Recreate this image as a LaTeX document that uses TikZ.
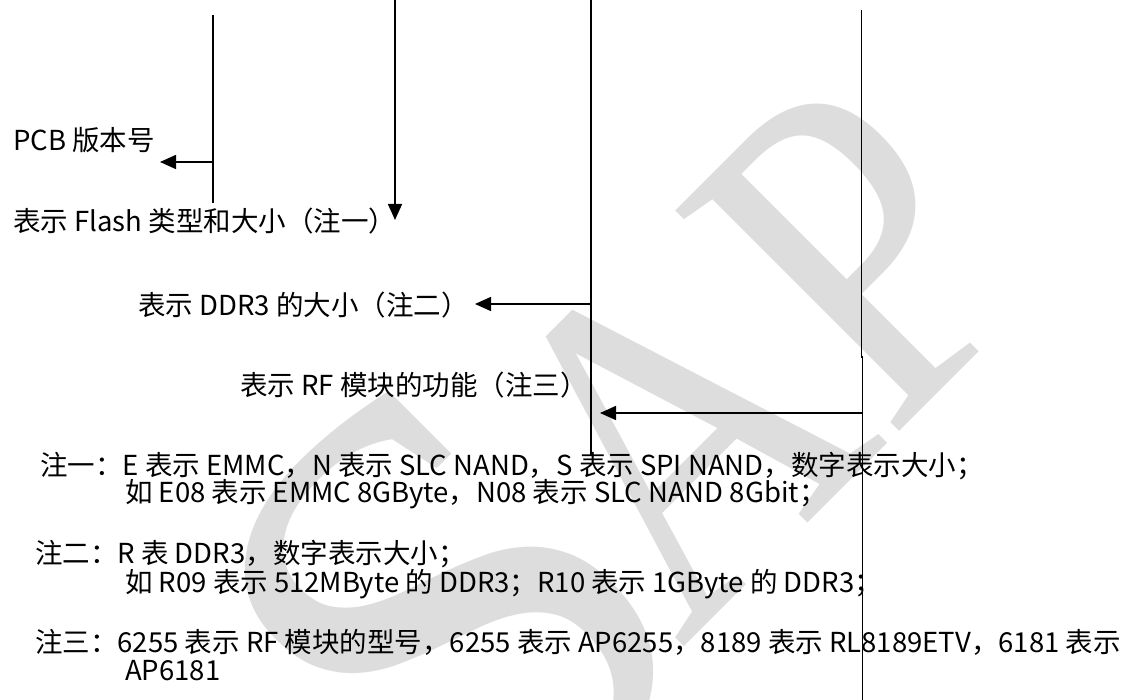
\documentclass[tikz,border=0pt]{standalone}
\usepackage{fontspec}
\setmainfont{Noto Sans CJK SC}
\newfontfamily\wmfont{Liberation Serif}
\usetikzlibrary{arrows.meta}
\definecolor{wm}{HTML}{DDDDDD}
\begin{document}
\begin{tikzpicture}[x=1pt,y=-1pt,
  lbl/.style={anchor=west,inner sep=0pt,font=\fontsize{27.5}{29}\selectfont},
  wmark/.style={rotate=45,text=wm,inner sep=0pt},
  conn/.style={line width=1.6pt},
  tip/.style={conn,-{Triangle[length=16pt,width=14pt]}}]
\useasboundingbox (0,0) rectangle (1123,700);
% watermark
\node[wmark,font=\wmfont\fontsize{650}{650}\selectfont,anchor=center] (wms) at (450,620) {S};
\node[wmark,xscale=0.85,anchor=base east,font=\wmfont\fontsize{480}{480}\selectfont] (wmap) at (1050,281) {AP};
% coordinates
\coordinate (l1top) at (213,15);
\coordinate (l1bot) at (213,203);
\coordinate (l1mid) at (213,162);
\coordinate (l1tip) at (160,162);
\coordinate (l2top) at (395,0);
\coordinate (l2tip) at (395,220);
\coordinate (l3top) at (591,0);
\coordinate (l3bot) at (591,455);
\coordinate (l3mid) at (591,304);
\coordinate (l3tip) at (475,304);
\coordinate (l4top) at (861.5,10);
\coordinate (l4jog) at (861.5,357);
\coordinate (l4jog2) at (862.5,357);
\coordinate (l4bot) at (862.5,700);
\coordinate (l4mid) at (862.5,413);
\coordinate (l4tip) at (600,413);
% lines
\draw[conn] (l1top) -- (l1bot);
\draw[tip] (l1mid) -- (l1tip);
\draw[tip] (l2top) -- (l2tip);
\draw[conn] (l3top) -- (l3bot);
\draw[tip] (l3mid) -- (l3tip);
\draw[conn] (l4top) -- (l4jog) -- (l4jog2) -- (l4bot);
\draw[tip] (l4mid) -- (l4tip);
% labels
\node[lbl] (pcb) at (13,140) {PCB 版本号};
\node[lbl] (flash) at (13,221) {表示 Flash 类型和大小（注一）};
\node[lbl] (ddr) at (138,305) {表示 DDR3 的大小（注二）};
\node[lbl] (rf) at (240,385) {表示 RF 模块的功能（注三）};
% notes
\node[lbl] (n1a) at (40,466) {注一：E 表示 EMMC，N 表示 SLC NAND，S 表示 SPI NAND，数字表示大小；};
\node[lbl] (n1b) at (125,494) {如 E08 表示 EMMC 8GByte，N08 表示 SLC NAND 8Gbit；};
\node[lbl] (n2a) at (35,554) {注二：R 表 DDR3，数字表示大小；};
\node[lbl] (n2b) at (125,584) {如 R09 表示 512MByte 的 DDR3；R10 表示 1GByte 的 DDR3；};
\node[lbl] (n3a) at (35,642) {注三：6255 表示 RF 模块的型号，6255 表示 AP6255，8189 表示 RL8189ETV，6181 表示};
\node[lbl] (n3b) at (125,671) {AP6181};
\end{tikzpicture}
\end{document}
